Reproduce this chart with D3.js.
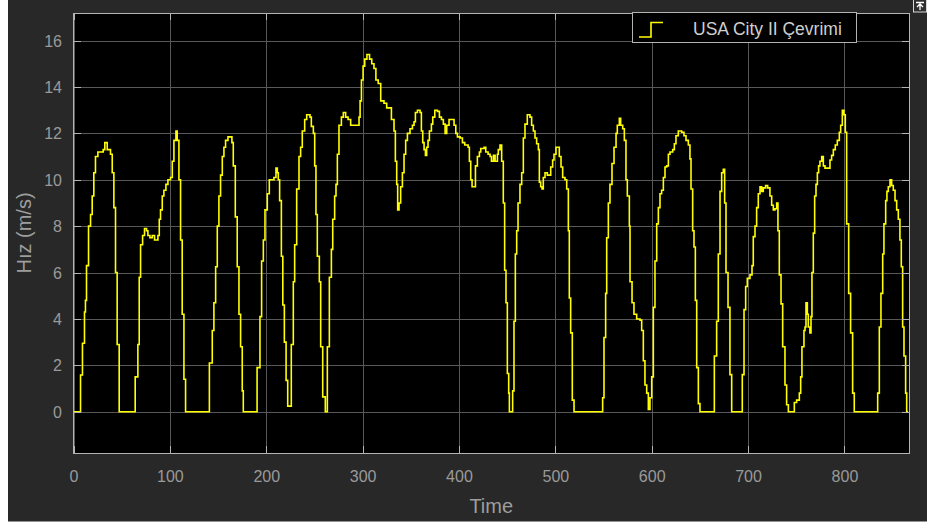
<!DOCTYPE html>
<html>
<head>
<meta charset="utf-8">
<script src="https://cdn.jsdelivr.net/npm/d3@7"></script>
<style>
	html, body { margin: 0; padding: 0; background: #ffffff; }
	svg { display: block; font-family: "Liberation Sans", Arial, Helvetica, sans-serif; }
	.grid line { stroke: #585858; stroke-width: 1; shape-rendering: crispEdges; }
	.grid path { display: none; }
	.axis path { display: none; }
	.axis line { stroke: #b4b4b4; shape-rendering: crispEdges; }
	.axis text { fill: #9a9a9a; font-size: 16px; }
</style>
</head>
<body>
<svg class="chart" width="927" height="525"></svg>
<script>
(function() {

	// DATA (held as steps)
	var timeValues = [
		0, 7.3, 9.3, 11.4, 12.4, 13.5, 15.6, 17.7, 19.4, 21.1, 22.8, 25.3, 30.8, 32.5, 35, 38.4, 40.2, 41.9, 43.6, 45.3, 47.4,
		64, 66.8, 68.2, 69.6, 71.7, 73.7, 75.8, 77.2, 79.3, 81.7, 84.1, 87.6, 89, 90.3, 92.1, 93.8, 95.9, 98, 100.7, 102.5, 104.2, 106.3, 107.6, 109.4, 111.1, 112.8, 114.6, 116.3,
		141, 144, 145.7, 147.5, 149.2, 150.9, 152.6, 154.4, 156.1, 157.8, 160.3, 164.4, 165.8, 167.9, 169.9, 171.7, 173.4, 175.1, 176.2,
		190.5, 193.5, 195.2, 197, 198.7, 201.1, 203.2, 208, 210.1, 211.5, 212.5, 213.9, 215.7, 217.2, 218.8, 220.6, 222.3,
		226, 228.1, 229.5, 231.6, 234, 235.7, 237.4, 239.9, 242, 245.4, 246.8, 248.9, 250.3, 251.6, 253, 255.1, 256.5, 258.6, 261.3,
		263.4, 265.5, 267.6, 269, 271, 272.4, 273.8, 275.5, 278, 280, 282.4, 284.9, 287.6, 296.3, 297.4, 298.8, 300.5, 302.2, 304.5, 307.2, 309.5, 311.8, 313.8, 316.2,
		318.8, 322.2, 325, 327.8, 329.9, 332.6, 334, 335.4, 336.4, 337.8, 339.5, 341.3, 343, 344.7, 346.5, 349.2, 351.7, 353.4, 354.8, 356.9, 359.6,
		361, 362.4, 363.8, 365.2, 366.5, 367.9, 369.3, 371.4, 372.8, 374.9, 377.6, 379.7, 381.8, 383.8, 385.6, 387.3, 389.7, 393.2, 394.9, 396.7, 398.4,
		401.2, 403.6, 406, 409.5, 410.8, 412.2, 413.6, 417.1, 419.1, 421.2, 422.6, 426.1, 427.8, 430.2, 432.3, 433.7, 435.8, 437.5, 439.9,
		440.8, 442.6, 444.3, 446, 447.4, 448.8, 450.2, 451.6, 452.3, 455.7, 457.1, 458.5, 459.9, 461.3, 463.3, 465.1, 466.8, 468.5, 470.9, 473.7,
		475.4, 477.2, 478.9, 480.6, 482.4, 483.4, 484.8, 486.2, 487.5, 489.3, 491.7, 495.2, 497.2, 498.6, 500.7, 504.1, 505.9, 507.6, 510, 511.8,
		513.5, 514.5, 515.9, 517.6, 519.4,
		549.1, 550.5, 552.2, 553.3, 555, 556.7, 558.8, 560.9, 563, 564.3, 566.4, 567.8, 569.9, 571.6, 573.3, 574.7, 576.8, 577.5, 579.6, 581.6,
		584.4, 587.9, 589.6, 591.3, 593, 594.8, 596.5, 598.2, 600, 601.7, 603.4, 605.2, 606.9, 608.6, 610.3, 612.1, 613.8, 615.5, 617.3, 619,
		621.8, 623.5, 625.2, 627.6, 631.1, 633.5, 635.6, 638, 639.7, 640.8, 642.5, 643.9, 645.3, 646.7, 648.4, 650.1,
		665, 667.4, 669.1, 670.9, 672.6, 674.3, 675.7, 677.1, 679.2, 681.2, 683,
		694, 695.8, 697.5, 699.2, 702, 704.1, 705.4, 707.2, 708.9, 710.6, 712.4, 714.1, 715.8, 718.2, 720.3, 722.7, 724.5, 726.2, 727.9, 729.7,
		731, 732.4, 734.2, 735.9, 738.3, 740, 741.8,
		748, 750.4, 753.2, 754.6, 755.9, 758, 759.1, 760.1, 761.5, 762.5, 764.2, 765.3, 766.3, 767.7, 769.1, 770.5, 771.9, 773.2, 774.6, 776.4,
		778.1, 779.8, 783.3, 785, 786.7, 788.5, 790.5, 792.6, 794.7, 796.1, 797.8, 799.5, 800.9, 802.3, 804.4, 806.4, 808.5, 810.2,
		834.5, 836.2, 837.9, 839.7, 841, 842.8, 844.1, 845.5, 847.3, 849, 850.7, 852.5, 854.2, 855.9, 857.6, 859, 860.4, 861.8, 863.5, 864.6, 866
	];

	var speedValues = [
		0, 1.58, 2.95, 4.3, 4.8, 6.3, 8.0, 8.5, 9.3, 10.3, 11.0, 11.2, 11.3, 11.6, 11.3, 11.1, 10.3, 8.8, 6.0, 2.9, 0,
		1.5, 2.9, 5.8, 7.2, 7.6, 7.9, 7.8, 7.6, 7.5, 7.6, 7.4, 7.6, 8.3, 8.7, 9.3, 9.55, 9.8, 10.0, 10.1, 10.8, 11.7, 12.1, 11.7, 10.0, 7.4, 4.2, 1.4, 0,
		2.1, 3.5, 4.7, 6.25, 8.0, 9.3, 10.2, 11.0, 11.4, 11.7, 11.85, 11.6, 10.6, 8.4, 6.25, 4.2, 2.8, 0.9, 0,
		1.9, 4.1, 6.5, 7.4, 8.7, 9.4, 10.0, 10.1, 10.5, 10.3, 10.0, 9.1, 6.7, 4.6, 3.0, 1.35, 0.24,
		2.9, 5.6, 7.2, 9.6, 11.0, 11.4, 12.1, 12.6, 12.8, 12.7, 12.3, 12.0, 10.6, 8.5, 6.7, 5.6, 2.8, 0.64, 0,
		2.8, 5.8, 7.0, 8.3, 9.3, 9.8, 11.1, 12.35, 12.7, 12.9, 12.7, 12.6, 12.35, 12.7, 13.4, 14.3, 14.9, 15.2, 15.4, 15.2, 15.0, 14.8, 14.3, 14.15,
		13.4, 13.3, 13.1, 13.1, 12.6, 12.1, 10.8, 9.8, 8.7, 9.0, 9.7, 10.3, 11.1, 11.7, 12.0, 12.2, 12.35, 12.5, 12.9, 13.0, 12.9,
		12.1, 11.6, 11.3, 11.05, 11.4, 11.7, 12.1, 12.4, 12.7, 13.0, 12.95, 12.7, 12.6, 12.4, 12.0, 12.35, 12.6, 12.6, 12.35, 12.0, 11.85,
		11.8, 11.6, 11.5, 11.4, 10.8, 10.0, 9.7, 10.6, 11.0, 11.2, 11.35, 11.4, 11.2, 11.1, 11.0, 10.8, 11.05, 10.8, 11.1,
		11.3, 11.5, 10.8, 9.0, 6.1, 4.7, 1.65, 0.8, 0, 0.9, 3.9, 6.8, 7.8, 9.0, 9.8, 10.3, 11.8, 12.4, 12.8, 12.7,
		12.35, 12.1, 11.8, 11.55, 11.3, 9.9, 9.7, 9.6, 10.1, 10.3, 10.2, 10.55, 10.85, 11.1, 11.4, 11.0, 10.55, 10.1, 10.0, 9.6,
		7.8, 4.9, 3.4, 0.5, 0,
		0.6, 3.2, 5.1, 7.5, 9.0, 9.8, 10.7, 11.4, 12.0, 12.35, 12.65, 12.35, 12.2, 11.7, 10.0, 9.3, 8.0, 5.6, 4.7, 4.2,
		4.0, 3.95, 3.5, 2.2, 1.15, 0.8, 0.1, 0.6, 1.5, 4.5, 6.5, 8.1, 8.8, 9.4, 9.55, 10.1, 10.55, 10.6, 11.1, 11.2,
		11.3, 11.55, 11.9, 12.1, 12.05, 11.9, 11.7, 11.5, 10.9, 9.6, 7.8, 7.1, 4.8, 1.9, 0.35, 0,
		2.4, 3.9, 6.8, 9.5, 10.3, 10.45, 9.0, 6.0, 4.5, 1.6, 0,
		1.6, 4.4, 5.4, 5.75, 5.9, 6.3, 7.55, 8.0, 8.8, 9.4, 9.7, 9.5, 9.65, 9.75, 9.65, 9.3, 8.9, 8.7, 8.75, 9.0,
		7.8, 5.9, 4.65, 2.8, 1.15, 0.3, 0,
		0.4, 0.5, 0.8, 1.5, 2.8, 3.5, 3.65, 4.7, 4.2, 3.65, 3.4, 4.1, 6.0, 7.7, 9.3, 9.8, 10.3, 10.6, 10.8, 11.0,
		10.6, 10.5, 10.5, 10.85, 11.05, 11.3, 11.5, 11.7, 12.05, 12.35, 13.0, 12.8, 12.05, 8.1, 5.1, 3.4, 0.8, 0,
		0.8, 3.65, 5.1, 6.8, 8.1, 9.1, 9.5, 9.7, 10.0, 9.75, 9.55, 9.1, 8.7, 8.3, 7.4, 6.25, 3.65, 2.4, 0.8, 0, 0
	];

	var xTicks = [0, 100, 200, 300, 400, 500, 600, 700, 800];
	var yTicks = [0, 2, 4, 6, 8, 10, 12, 14, 16];
	var xDomain = [0, 867];
	var yDomain = [-1.78, 17.19];

	var seriesName = 'USA City II Çevrimi';
	var xLabel = 'Time';
	var yLabel = 'Hız (m/s)';

	//VARS
	var lineColor = '#ffff00';
	var margin = { top: 13, left: 73.5, right: 18, bottom: 72 };
	var fullW = 927, fullH = 525;
	var width = fullW - margin.left - margin.right;
	var height = fullH - margin.top - margin.bottom;

	var svg = d3.select('.chart');

	var data = timeValues.map(function(t, i) {
		return { t: t, v: speedValues[i] };
	});

	// SCALES
	var x = d3.scaleLinear().domain(xDomain).range([0, width]);
	var y = d3.scaleLinear().domain(yDomain).range([height, 0]);

	// figure background
	svg.append('rect')
		.attr('x', 8)
		.attr('y', 0)
		.attr('width', fullW - 8)
		.attr('height', 521.5)
		.attr('fill', '#282828');

	var g = svg.append('g')
		.attr('transform', 'translate(' + margin.left + ',' + margin.top + ')');

	g.append('rect')
		.attr('width', width)
		.attr('height', height)
		.attr('fill', '#000000');

	// GRID
	g.append('g')
		.attr('class', 'grid')
		.attr('transform', 'translate(0,' + height + ')')
		.call(d3.axisBottom(x).tickValues(xTicks).tickSize(-height).tickFormat(''));

	g.append('g')
		.attr('class', 'grid')
		.call(d3.axisLeft(y).tickValues(yTicks).tickSize(-width).tickFormat(''));

	// LINE
	g.append('clipPath')
		.attr('id', 'plot-clip')
		.append('rect')
		.attr('width', width)
		.attr('height', height);

	var line = d3.line()
		.x(function(d) { return x(d.t); })
		.y(function(d) { return y(d.v); })
		.curve(d3.curveStepAfter);

	g.append('path')
		.datum(data)
		.attr('clip-path', 'url(#plot-clip)')
		.attr('fill', 'none')
		.attr('stroke', lineColor)
		.attr('stroke-width', 1.6)
		.attr('stroke-linejoin', 'miter')
		.attr('d', line);

	// AXES (ticks inward on all four sides)
	g.append('g')
		.attr('class', 'axis axis--x')
		.attr('transform', 'translate(0,' + height + ')')
		.call(d3.axisBottom(x).tickValues(xTicks).tickSizeInner(-7).tickSizeOuter(0).tickPadding(18));

	g.append('g')
		.attr('class', 'axis axis--x-top')
		.call(d3.axisTop(x).tickValues(xTicks).tickSizeInner(-7).tickSizeOuter(0).tickFormat(''));

	g.append('g')
		.attr('class', 'axis axis--y')
		.call(d3.axisLeft(y).tickValues(yTicks).tickSizeInner(-7).tickSizeOuter(0).tickPadding(11.5));

	g.append('g')
		.attr('class', 'axis axis--y-right')
		.attr('transform', 'translate(' + width + ',0)')
		.call(d3.axisRight(y).tickValues(yTicks).tickSizeInner(-7).tickSizeOuter(0).tickFormat(''));

	g.selectAll('.axis--y text').attr('dy', '0.35em');

	// frame
	g.append('rect')
		.attr('width', width)
		.attr('height', height)
		.attr('fill', 'none')
		.attr('stroke', '#b4b4b4')
		.attr('stroke-width', 1)
		.attr('shape-rendering', 'crispEdges');

	// LABELS
	svg.append('text')
		.attr('x', margin.left + width / 2)
		.attr('y', 512.5)
		.attr('text-anchor', 'middle')
		.attr('fill', '#9e9e9e')
		.style('font-size', '20px')
		.text(xLabel);

	svg.append('text')
		.attr('transform', 'translate(31,' + (margin.top + height / 2) + ')rotate(-90)')
		.attr('text-anchor', 'middle')
		.attr('fill', '#9e9e9e')
		.style('font-size', '20px')
		.text(yLabel);

	// LEGEND
	var legend = svg.append('g')
		.attr('transform', 'translate(632,12.5)');

	legend.append('rect')
		.attr('width', 224)
		.attr('height', 30)
		.attr('fill', '#000000')
		.attr('stroke', '#b4b4b4')
		.attr('stroke-width', 1)
		.attr('shape-rendering', 'crispEdges');

	legend.append('path')
		.attr('d', 'M7,24.5H19V10H31')
		.attr('fill', 'none')
		.attr('stroke', lineColor)
		.attr('stroke-width', 1.6);

	legend.append('text')
		.attr('x', 61)
		.attr('y', 22.5)
		.attr('fill', '#cfcfcf')
		.style('font-size', '17.5px')
		.text(seriesName);

	// little undock button, top right
	var btn = svg.append('g')
		.attr('transform', 'translate(913,0)');

	btn.append('rect')
		.attr('x', 0.5)
		.attr('y', -1)
		.attr('width', 13)
		.attr('height', 13)
		.attr('fill', '#2e2e2e')
		.attr('stroke', '#d8d8d8')
		.attr('stroke-width', 1);

	btn.append('path')
		.attr('d', 'M3,2.5H11M7,4V10M4,7L7,4L10,7')
		.attr('fill', 'none')
		.attr('stroke', '#ffffff')
		.attr('stroke-width', 1.3);

})()
</script>
</body>
</html>
